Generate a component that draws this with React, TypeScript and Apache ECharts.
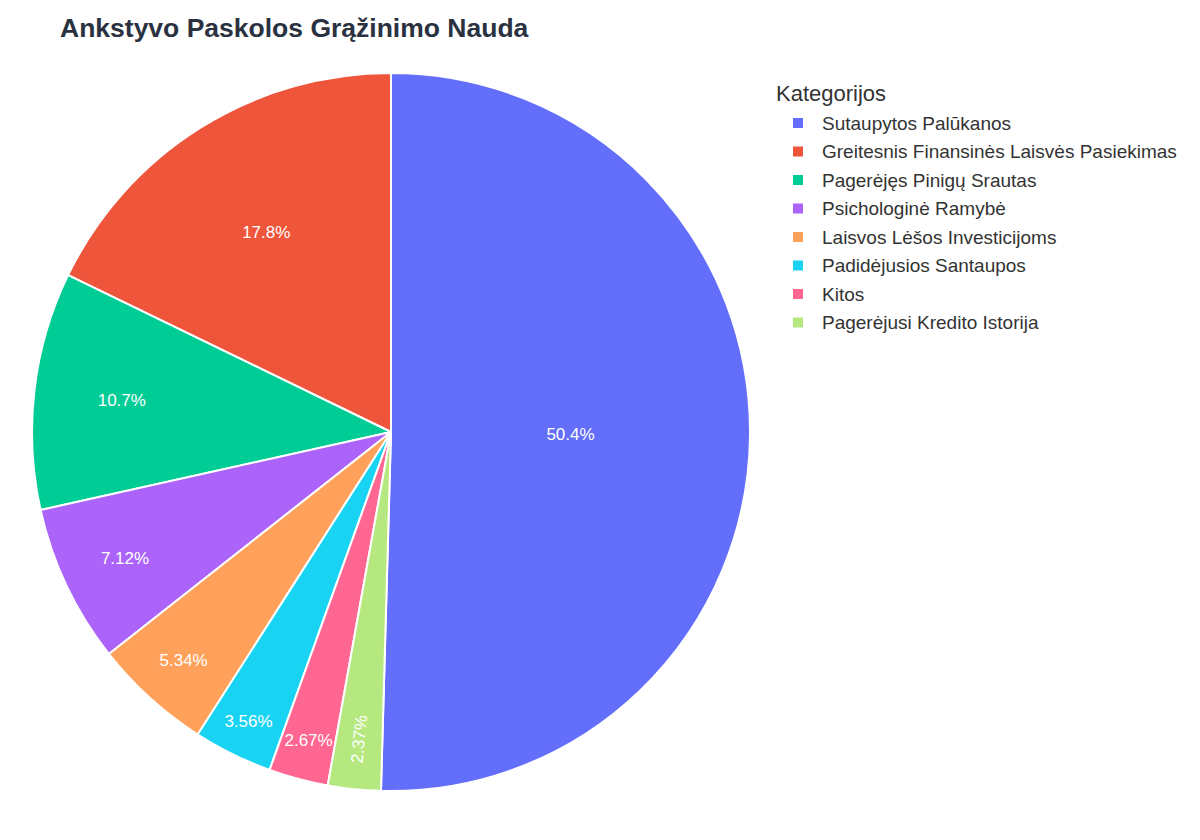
import React, { useRef, useEffect } from "react";
import * as echarts from "echarts";

const categories = [
  "Sutaupytos Palūkanos",
  "Greitesnis Finansinės Laisvės Pasiekimas",
  "Pagerėjęs Pinigų Srautas",
  "Psichologinė Ramybė",
  "Laisvos Lėšos Investicijoms",
  "Padidėjusios Santaupos",
  "Kitos",
  "Pagerėjusi Kredito Istorija",
];
const values = [170, 60, 36, 24, 18, 12, 9, 8];
const colors = ["#636efa", "#EF553B", "#00cc96", "#ab63fa", "#FFA15A", "#19d3f3", "#FF6692", "#B6E880"];
// how far out (fraction of radius) each inside label sits
const labelRadius = [0.5, 0.655, 0.755, 0.82, 0.86, 0.9, 0.89, 0.86];

const FONT = "'Liberation Sans', Arial, Helvetica, sans-serif";
const CX = 391;
const CY = 432;
const R = 359;

const fmtPct = (p: number) => {
  if (p >= 10) return p.toFixed(1) + "%";
  return p.toFixed(2) + "%";
};

const App = function () {
  const chart = useRef<HTMLDivElement>(null);
  useEffect(() => {
    if (!chart.current) return;
    const myChart = echarts.init(chart.current, undefined, { renderer: "svg" });
    const total = values.reduce((a, b) => a + b, 0);
    const startAngle = 90 - (360 * values[0]) / total;
    const mids: number[] = [];
    let cum = 0;
    values.forEach((v) => {
      mids.push(startAngle + ((cum + v / 2) * 360) / total);
      cum += v;
    });
    const option = {
      animation: false,
      backgroundColor: "#fff",
      title: [
        {
          text: "Ankstyvo Paskolos Grąžinimo Nauda",
          left: 60,
          top: 14,
          padding: 0,
          textStyle: { fontFamily: FONT, fontSize: 26.5, fontWeight: "bold", color: "#2a3140" },
        },
        {
          text: "Kategorijos",
          left: 776,
          top: 82,
          padding: 0,
          textStyle: { fontFamily: FONT, fontSize: 22, fontWeight: "normal", color: "#333" },
        },
      ],
      legend: {
        orient: "vertical",
        left: 791,
        top: 113,
        padding: 0,
        itemWidth: 12,
        itemHeight: 12,
        itemGap: 8.5,
        icon: "rect",
        data: categories,
        textStyle: {
          fontFamily: FONT,
          fontSize: 19,
          color: "#333",
          lineHeight: 20,
          padding: [0, 0, 0, 13],
        },
      },
      series: [
        {
          type: "pie",
          center: [CX, CY],
          radius: R,
          clockwise: false,
          startAngle: startAngle,
          label: {
            show: true,
            position: "inside",
            color: "#fff",
            fontFamily: FONT,
            fontSize: 17,
            formatter: (p: any) => fmtPct((values[p.dataIndex] / total) * 100),
          },
          labelLine: { show: false },
          labelLayout: (p: any) => {
            const i = p.dataIndex;
            const a = (mids[i] * Math.PI) / 180;
            const rr = R * labelRadius[i];
            const pct = (values[i] / total) * 100;
            return {
              x: CX + rr * Math.cos(a),
              y: CY - rr * Math.sin(a),
              align: "center",
              verticalAlign: "middle",
              rotate: pct < 2.5 ? mids[i] - 180 : 0,
            };
          },
          itemStyle: { borderColor: "#fff", borderWidth: 2 },
          emphasis: { disabled: true },
          data: categories.map((name, i) => ({
            name,
            value: values[i],
            itemStyle: { color: colors[i] },
          })),
        },
      ],
    };
    myChart.setOption(option as any);
    return () => {
      myChart.dispose();
    };
  }, []);
  return (
    <div
      ref={chart}
      style={{ position: "fixed", left: 0, top: 0, width: 1200, height: 840 }}
    ></div>
  );
};
export default App;
